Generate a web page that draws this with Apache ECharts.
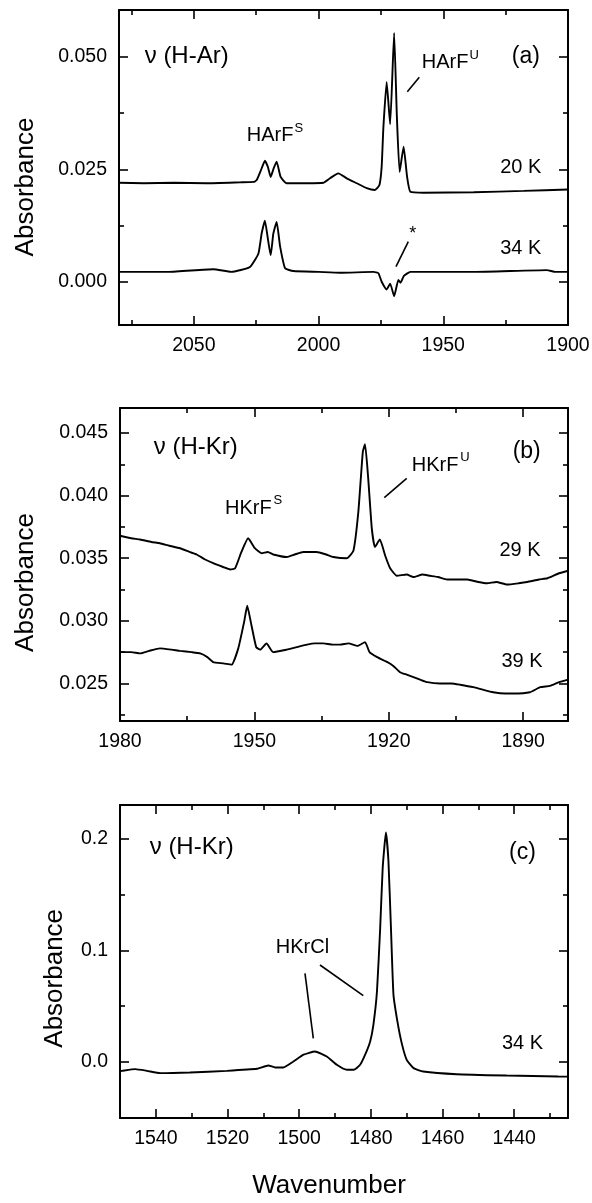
<!DOCTYPE html>
<html>
<head>
<meta charset="utf-8">
<script src="https://cdn.jsdelivr.net/npm/echarts@6/dist/echarts.min.js"></script>
<style>
html,body{margin:0;padding:0;background:#fff;}
#chart{width:592px;height:1203px;}
</style>
</head>
<body>
<div id="chart"></div>
<script>
// ---------- DATA (wavenumber, absorbance) ----------
const a20K = [[2080,0.0220],[2070,0.0219],[2058,0.0220],[2045,0.0219],[2031.5,0.0221],[2026,0.0222],[2024.8,0.0226],[2023.1,0.0248],[2021.5,0.0269],[2020.3,0.0255],[2019.2,0.0233],[2018,0.0252],[2016.8,0.0267],[2015.2,0.0233],[2012.8,0.0219],[2004.7,0.0219],[1998.1,0.0220],[1995.4,0.0230],[1992.1,0.0241],[1988.7,0.0230],[1984.7,0.0219],[1980.7,0.0208],[1977.4,0.0204],[1975.6,0.0215],[1974.7,0.0256],[1974.0,0.0344],[1972.7,0.0444],[1971.3,0.0350],[1969.7,0.0553],[1968.6,0.0367],[1967.5,0.0244],[1965.9,0.0300],[1964.5,0.0233],[1963.2,0.0200],[1957.9,0.0198],[1937.8,0.0199],[1917.8,0.0202],[1900,0.0205]];
const a34K = [[2080,0.0022],[2060,0.0022],[2042.2,0.0028],[2035,0.0022],[2027.5,0.0033],[2024.1,0.0063],[2022.8,0.0108],[2021.5,0.0136],[2020.3,0.0095],[2019.2,0.0059],[2018.1,0.0108],[2016.8,0.0133],[2015.4,0.0078],[2013.4,0.0030],[2010.1,0.0024],[2000,0.0022],[1991.4,0.0020],[1978,0.0022],[1976,0.0019],[1974.7,0.0000],[1972.7,-0.0017],[1971.3,-0.0004],[1969.7,-0.0032],[1968,0.0004],[1967.1,-0.0002],[1965.8,0.0013],[1963.2,0.0022],[1937.8,0.0022],[1908.5,0.0026],[1905,0.0022],[1900,0.0022]];
const b29K = [[1980,0.0368],[1977.5,0.0366],[1975.5,0.0365],[1973,0.0363],[1971.1,0.0362],[1969,0.0360],[1966.6,0.0358],[1964.5,0.0355],[1962.9,0.0353],[1961,0.0349],[1959.2,0.0346],[1957,0.0343],[1955.4,0.0341],[1954.3,0.0342],[1952.9,0.0355],[1951.4,0.0366],[1949.9,0.0358],[1948.4,0.0354],[1947,0.0355],[1945.8,0.0353],[1942.8,0.0351],[1941,0.0353],[1939.1,0.0355],[1936.1,0.0355],[1934,0.0353],[1932.4,0.0351],[1929.4,0.0350],[1927.9,0.0356],[1926.8,0.0387],[1925.8,0.0435],[1925.3,0.0441],[1924.6,0.0414],[1923.8,0.0374],[1923.1,0.0359],[1922.0,0.0365],[1920.8,0.0352],[1919.7,0.0342],[1918.2,0.0336],[1916,0.0337],[1914.5,0.0335],[1912.5,0.0337],[1910.8,0.0336],[1909,0.0335],[1907,0.0333],[1905,0.0333],[1902.5,0.0333],[1900,0.0331],[1898.1,0.0330],[1896,0.0331],[1893.6,0.0329],[1891,0.0330],[1889.1,0.0331],[1886.5,0.0333],[1884.6,0.0334],[1882,0.0338],[1880,0.0340]];
const b39K = [[1980,0.0275],[1977.5,0.0275],[1975.5,0.0274],[1973.5,0.0276],[1971.1,0.0278],[1968.5,0.0277],[1966.6,0.0276],[1964,0.0275],[1962.1,0.0274],[1960.5,0.0271],[1959.2,0.0267],[1956.9,0.0266],[1955.1,0.0265],[1953.6,0.0278],[1952.3,0.0299],[1951.6,0.0312],[1950.8,0.0299],[1949.6,0.0279],[1948.7,0.0277],[1947.3,0.0282],[1945.8,0.0275],[1942.8,0.0277],[1940.5,0.0279],[1938.3,0.0281],[1936.5,0.0282],[1934.6,0.0282],[1932.5,0.0281],[1930.9,0.0281],[1929,0.0282],[1927,0.0280],[1925.3,0.0283],[1924.3,0.0275],[1922.6,0.0271],[1920.3,0.0267],[1919,0.0264],[1917.5,0.0259],[1916,0.0257],[1914.5,0.0255],[1913,0.0253],[1911.4,0.0251],[1908.6,0.0250],[1906,0.0250],[1904.1,0.0249],[1901.1,0.0247],[1899,0.0245],[1896.7,0.0243],[1894,0.0242],[1892.2,0.0242],[1888.5,0.0243],[1886.2,0.0247],[1884,0.0248],[1882,0.0251],[1880,0.0253]];
const c34K = [[1550,-0.0080],[1549.5,-0.0078],[1545.8,-0.0063],[1542.5,-0.0078],[1538.8,-0.0099],[1530.5,-0.0093],[1520.2,-0.0078],[1511.8,-0.0060],[1508.6,-0.0030],[1506.7,-0.0048],[1504.4,-0.0048],[1501.6,0.0006],[1498.8,0.0066],[1495.6,0.0095],[1492.3,0.0050],[1489.5,-0.0024],[1486.7,-0.0069],[1484.8,-0.0069],[1483,-0.0024],[1481.6,0.0066],[1480.2,0.0185],[1479.3,0.0334],[1478.3,0.0633],[1477.4,0.1202],[1476.7,0.1740],[1475.8,0.2054],[1475.1,0.1799],[1474.4,0.1202],[1473.7,0.0604],[1472.6,0.0364],[1471.4,0.0170],[1470,0.0020],[1468.1,-0.0054],[1465.4,-0.0084],[1456.1,-0.0108],[1442.1,-0.0120],[1427.7,-0.0129],[1425,-0.0130]];

// ---------- TICKS ----------
const aXLabels = [1900,1950,2000,2050];
const aXMinor  = [1925,1975,2025,2075];
const aYLabels = [0,0.025,0.05];
const aYMinor  = [0.0125,0.0375];
const bXLabels = [1890,1920,1950,1980];
const bXMinor  = [1905,1935,1965];
const bYLabels = [0.025,0.030,0.035,0.040,0.045];
const bYMinor  = [0.0225,0.0275,0.0325,0.0375,0.0425];
const cXLabels = [1440,1460,1480,1500,1520,1540];
const cXMinor  = [1430,1450,1470,1490,1510,1530];
const cYLabels = [0,0.1,0.2];
const cYMinor  = [0.05,0.15];

const FONT = "'Liberation Sans', Arial, Helvetica, sans-serif";
const BLACK = '#000';

const panels = [
  {grid:{left:119, top:10, width:449, height:315}, x:[1900,2080], y:[-0.0096,0.0604],
   xl:aXLabels, xm:aXMinor, yl:aYLabels, ym:aYMinor, dec:3, series:[a20K,a34K]},
  {grid:{left:120, top:408, width:448, height:313}, x:[1880,1980], y:[0.022,0.047],
   xl:bXLabels, xm:bXMinor, yl:bYLabels, ym:bYMinor, dec:3, series:[b29K,b39K]},
  {grid:{left:120, top:805, width:448, height:313}, x:[1425,1550], y:[-0.05,0.23],
   xl:cXLabels, xm:cXMinor, yl:cYLabels, ym:cYMinor, dec:1, series:[c34K]}
];

const lineW = 2;
function tick(len, vals){ return {show:true, inside:true, length:len, customValues:vals, lineStyle:{color:BLACK, width:1.6}}; }
const xAxes = [], yAxes = [], grids = [], series = [];
panels.forEach((p, g) => {
  grids.push(Object.assign({outerBoundsMode:'none', containLabel:false}, p.grid));
  const xb = {type:'value', gridIndex:g, min:p.x[0], max:p.x[1], inverse:true, splitLine:{show:false}};
  const yb = {type:'value', gridIndex:g, min:p.y[0], max:p.y[1], splitLine:{show:false}};
  const line = {show:true, onZero:false, lineStyle:{color:BLACK, width:lineW}};
  const noLine = {show:false, onZero:false};
  xAxes.push(Object.assign({}, xb, {position:'bottom', axisLine:line, axisTick:tick(9, p.xl),
    axisLabel:{show:true, customValues:p.xl, margin:11, color:BLACK, fontSize:19.5, fontFamily:FONT, formatter:v=>String(v)}}));
  xAxes.push(Object.assign({}, xb, {position:'bottom', axisLine:noLine, axisTick:tick(5, p.xm), axisLabel:{show:false}}));
  xAxes.push(Object.assign({}, xb, {position:'top', axisLine:line, axisTick:tick(9, p.xl), axisLabel:{show:false}}));
  xAxes.push(Object.assign({}, xb, {position:'top', axisLine:noLine, axisTick:tick(5, p.xm), axisLabel:{show:false}}));
  yAxes.push(Object.assign({}, yb, {position:'left', axisLine:line, axisTick:tick(9, p.yl),
    axisLabel:{show:true, customValues:p.yl, margin:12, color:BLACK, fontSize:19.5, fontFamily:FONT, formatter:v=>Number(v).toFixed(p.dec)}}));
  yAxes.push(Object.assign({}, yb, {position:'left', axisLine:noLine, axisTick:tick(5, p.ym), axisLabel:{show:false}}));
  yAxes.push(Object.assign({}, yb, {position:'right', axisLine:line, axisTick:tick(9, p.yl), axisLabel:{show:false}}));
  yAxes.push(Object.assign({}, yb, {position:'right', axisLine:noLine, axisTick:tick(5, p.ym), axisLabel:{show:false}}));
  p.series.forEach(d => series.push({type:'line', xAxisIndex:g*4, yAxisIndex:g*4, data:d, showSymbol:false,
    smooth:0.15, lineStyle:{color:BLACK, width:1.9}, silent:true}));
});

function txt(x, y, s, size, align, rot){
  return {type:'text', x:x, y:y, rotation:rot||0, silent:true,
    style:{text:s, font:size+'px '+FONT, fill:BLACK, align:align||'center', verticalAlign:'middle',
           textAlign:align||'center', textVerticalAlign:'middle'}};
}
function seg(x1,y1,x2,y2){
  return {type:'line', silent:true, shape:{x1,y1,x2,y2}, style:{stroke:BLACK, lineWidth:1.6}};
}
const graphics = [
  // panel a
  txt(186.7, 56, 'ν (H-Ar)', 24), txt(525.8, 56.7, '(a)', 23),
  txt(246.7, 135, 'HArF', 20, 'left'), txt(294.5, 128.3, 'S', 13, 'left'),
  txt(421.7, 62.5, 'HArF', 20, 'left'), txt(469.5, 55.5, 'U', 13, 'left'),
  seg(419.3, 77.3, 407.3, 91.7),
  txt(520.8, 167, '20 K', 20), txt(520.8, 248.7, '34 K', 20),
  txt(412.7, 234, '*', 18), seg(408.3, 241.7, 396, 266.7),
  txt(25.5, 187, 'Absorbance', 26, 'center', Math.PI/2),
  // panel b
  txt(195.8, 447, 'ν (H-Kr)', 24), txt(526.7, 451.7, '(b)', 23),
  txt(225, 508.3, 'HKrF', 20, 'left'), txt(273.5, 500.5, 'S', 13, 'left'),
  txt(411.7, 465, 'HKrF', 20, 'left'), txt(460.2, 457, 'U', 13, 'left'),
  seg(406.7, 478.3, 384.3, 497.7),
  txt(520, 550, '29 K', 20), txt(522, 661.7, '39 K', 20),
  txt(25.5, 582.5, 'Absorbance', 26, 'center', Math.PI/2),
  // panel c
  txt(191.7, 847, 'ν (H-Kr)', 24), txt(522.5, 853, '(c)', 23),
  txt(302.5, 947.5, 'HKrCl', 20),
  seg(305, 973.3, 313.3, 1038.3), seg(320, 965, 363.3, 995.7),
  txt(522.5, 1043.3, '34 K', 20),
  txt(55, 978.3, 'Absorbance', 26, 'center', Math.PI/2),
  txt(329, 1186, 'Wavenumber', 26)
];

const chart = echarts.init(document.getElementById('chart'), null, {renderer:'canvas', width:592, height:1203});
chart.setOption({
  animation:false,
  backgroundColor:'#fff',
  grid:grids, xAxis:xAxes, yAxis:yAxes, series:series,
  graphic:{elements:graphics}
});
</script>
</body>
</html>
